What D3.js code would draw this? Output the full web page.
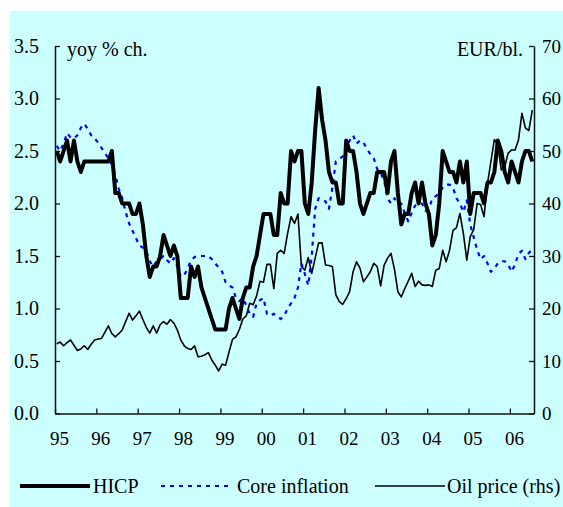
<!DOCTYPE html>
<html>
<head>
<meta charset="utf-8">
<script src="https://cdn.jsdelivr.net/npm/d3@7"></script>
<style>
  body { margin: 0; background: #fff; }
  svg { display: block; }
  text { font-family: "Liberation Serif", "Times New Roman", serif; fill: #000; }
</style>
</head>
<body>
<svg id="chart" width="563" height="507"></svg>
<script>
// monthly, Jan 1995 - Jul 2006
const yearLabels = ['95', '96', '97', '98', '99', '00', '01', '02', '03', '04', '05', '06'];
const leftTicks = [0, 0.5, 1, 1.5, 2, 2.5, 3, 3.5];
const rightTicks = [0, 10, 20, 30, 40, 50, 60, 70];

const hicp = [
  2.5, 2.4, 2.5, 2.6, 2.4, 2.6, 2.4, 2.3, 2.4, 2.4, 2.4, 2.4,
  2.4, 2.4, 2.4, 2.4, 2.5, 2.1, 2.1, 2.0, 2.0, 2.0, 1.9, 1.9,
  2.0, 1.8, 1.5, 1.3, 1.4, 1.4, 1.5, 1.7, 1.6, 1.5, 1.6, 1.5,
  1.1, 1.1, 1.1, 1.4, 1.3, 1.4, 1.2, 1.1, 1.0, 0.9, 0.8, 0.8,
  0.8, 0.8, 1.0, 1.1, 1.0, 0.9, 1.1, 1.2, 1.2, 1.4, 1.5, 1.7,
  1.9, 1.9, 1.9, 1.7, 1.7, 2.1, 2.0, 2.0, 2.5, 2.4, 2.5, 2.5,
  2.0, 1.9, 2.2, 2.7, 3.1, 2.8, 2.6, 2.3, 2.2, 2.2, 2.0, 2.0,
  2.6, 2.5, 2.5, 2.3, 2.0, 1.9, 2.0, 2.1, 2.1, 2.3, 2.3, 2.3,
  2.1, 2.4, 2.5, 2.1, 1.8, 1.9, 1.9, 2.1, 2.2, 2.0, 2.2, 2.0,
  1.9, 1.6, 1.7, 2.0, 2.5, 2.4, 2.3, 2.3, 2.2, 2.4, 2.2, 2.4,
  1.9, 2.1, 2.1, 2.1, 2.0, 2.2, 2.2, 2.3, 2.6, 2.5, 2.3, 2.2,
  2.4, 2.3, 2.2, 2.4, 2.5, 2.5, 2.4
];

const core = [
  2.55, 2.5, 2.57, 2.67, 2.63, 2.62, 2.65, 2.72, 2.76, 2.71, 2.65, 2.62,
  2.58, 2.53, 2.48, 2.43, 2.37, 2.27, 2.14, 2.05, 1.92, 1.81, 1.74, 1.67,
  1.6, 1.58, 1.55, 1.45, 1.4, 1.45, 1.47, 1.5, 1.46, 1.43, 1.48, 1.4,
  1.3, 1.32, 1.38, 1.46, 1.49, 1.5, 1.5, 1.5, 1.5, 1.47, 1.43, 1.39,
  1.35, 1.25, 1.22, 1.2, 1.1, 1.07, 1.1, 1.03, 0.95, 0.92, 1.05, 1.08,
  1.1, 0.95, 0.93, 0.95, 0.92, 0.9, 0.93, 1.0, 1.05, 1.1, 1.2, 1.43,
  1.33, 1.22, 1.5, 1.95, 2.05, 2.03, 2.02, 1.95, 2.15, 2.4, 2.42, 2.45,
  2.52, 2.6, 2.65, 2.57, 2.6, 2.58, 2.52, 2.47, 2.43, 2.33, 2.29, 2.22,
  2.05, 2.0, 2.05, 2.0, 2.0, 1.91, 1.83, 1.91, 1.98, 2.0, 2.0, 1.93,
  1.95, 2.05, 2.07, 2.1, 2.15, 2.18, 2.18, 2.15, 2.05, 2.0, 1.92, 2.03,
  1.8, 1.68, 1.56, 1.47, 1.5, 1.43, 1.35, 1.38, 1.43, 1.45, 1.45, 1.42,
  1.35, 1.42, 1.52, 1.55, 1.47, 1.53, 1.56
];

const oil = [
  13.3, 13.6, 12.9, 13.5, 14.0, 13.0, 12.0, 12.3, 12.9, 12.2, 13.2, 14.0,
  14.2, 14.3, 15.5, 16.7, 15.2, 14.6, 15.2, 15.9, 17.5, 19.1, 17.8, 18.6,
  19.5, 17.9, 16.4, 15.3, 16.7, 15.3, 16.9, 17.5, 17.0, 17.9, 17.2, 15.9,
  14.0, 12.9, 12.4, 12.2, 12.9, 10.8, 10.9, 11.2, 11.6, 10.2, 9.2, 8.1,
  9.4, 9.2, 11.7, 14.1, 14.6, 16.0, 18.0, 18.6, 21.0, 20.7, 22.4, 25.2,
  25.0, 28.4, 28.4, 23.8, 30.5, 31.1, 30.5, 34.3, 37.5, 36.2, 38.0, 28.0,
  27.3, 29.7, 26.7, 29.6, 32.5, 32.5, 28.3, 28.2, 28.0, 22.6, 21.3, 20.8,
  21.9, 23.2, 27.0, 28.9, 27.7, 25.1, 26.0, 27.0, 28.6, 28.0, 24.3, 28.2,
  29.6, 30.5, 27.5, 23.2, 22.2, 23.8, 25.2, 26.7, 24.2, 25.2, 24.5, 24.4,
  24.5, 24.2, 27.3, 27.6, 31.1, 28.9, 31.1, 34.9, 35.4, 38.1, 34.3, 29.2,
  33.7, 35.0, 40.0, 39.8, 37.5, 43.8, 48.0, 52.2, 51.2, 46.4, 47.0, 49.6,
  50.2, 50.2, 52.1, 57.2, 54.4, 53.9, 57.8
];

const legendItems = [
  { name: 'HICP', key: 'hicp' },
  { name: 'Core inflation', key: 'core' },
  { name: 'Oil price (rhs)', key: 'oil' }
];

const plot = { left: 55, right: 534, top: 46, bottom: 413.5 };
const styles = {
  hicp: { stroke: '#000', width: 4, dash: null },
  core: { stroke: '#0000ff', width: 2.2, dash: '4,5' },
  oil:  { stroke: '#000', width: 1.6, dash: null }
};

const svg = d3.select('#chart');

svg.append('rect')
  .attr('x', 10).attr('y', 11)
  .attr('width', 553).attr('height', 496)
  .attr('fill', '#ccffff');

const nMonths = hicp.length;

const xScale = d3.scaleLinear()
  .domain([0, nMonths])
  .range([plot.left, plot.right]);

const yLeft = d3.scaleLinear()
  .domain([0, 3.5])
  .range([plot.bottom, plot.top]);

const yRight = d3.scaleLinear()
  .domain([0, 70])
  .range([plot.bottom, plot.top]);

const xPos = (d, i) => xScale(i + 0.5);

// axes
const yAxisLeft = d3.axisLeft(yLeft)
  .tickValues(leftTicks)
  .tickFormat(d3.format('.1f'))
  .tickSize(-5)
  .tickSizeOuter(0)
  .tickPadding(16);

const yAxisRight = d3.axisRight(yRight)
  .tickValues(rightTicks)
  .tickFormat(d3.format('d'))
  .tickSize(-5)
  .tickSizeOuter(0)
  .tickPadding(8);

const xAxis = d3.axisBottom(xScale)
  .tickValues(yearLabels.map((d, i) => i * 12))
  .tickFormat((d, i) => yearLabels[i])
  .tickSize(-5)
  .tickSizeOuter(0)
  .tickPadding(18);

const styleAxis = g => {
  g.select('.domain').attr('stroke', '#111').attr('stroke-width', 1.5);
  g.selectAll('.tick line').attr('stroke', '#111').attr('stroke-width', 1.3);
  g.selectAll('text')
    .attr('font-family', '"Liberation Serif", "Times New Roman", serif')
    .attr('fill', '#000');
};

svg.append('g')
  .attr('transform', 'translate(' + plot.left + ',0)')
  .call(yAxisLeft)
  .call(styleAxis)
  .selectAll('text').attr('font-size', 20);

svg.append('g')
  .attr('transform', 'translate(' + plot.right + ',0)')
  .call(yAxisRight)
  .call(styleAxis)
  .selectAll('text').attr('font-size', 19);

svg.append('g')
  .attr('transform', 'translate(0,' + plot.bottom + ')')
  .call(xAxis)
  .call(styleAxis)
  .selectAll('text')
  .attr('font-size', 19)
  .attr('dx', 4);

// axis titles
svg.append('text')
  .attr('x', 67).attr('y', 56)
  .attr('font-size', 20)
  .text('yoy % ch.');

svg.append('text')
  .attr('x', 523).attr('y', 56)
  .attr('text-anchor', 'end')
  .attr('font-size', 20)
  .text('EUR/bl.');

// lines
const lineLeft = d3.line()
  .x(xPos)
  .y(d => yLeft(d));

const lineRight = d3.line()
  .x(xPos)
  .y(d => yRight(d));

const drawLine = (data, gen, st) => {
  svg.append('path')
    .datum(data)
    .attr('fill', 'none')
    .attr('stroke', st.stroke)
    .attr('stroke-width', st.width)
    .attr('stroke-linejoin', 'round')
    .attr('stroke-dasharray', st.dash)
    .attr('d', gen);
};

drawLine(oil, lineRight, styles.oil);
drawLine(core, lineLeft, styles.core);
drawLine(hicp, lineLeft, styles.hicp);

// legend
const legendY = 486;
const legendPos = [
  { x1: 20, x2: 90, tx: 93 },
  { x1: 161, x2: 231, tx: 237 },
  { x1: 375, x2: 445, tx: 447 }
];

const legend = svg.append('g');
legendItems.forEach((item, i) => {
  const st = styles[item.key];
  const p = legendPos[i];
  legend.append('line')
    .attr('x1', p.x1).attr('x2', p.x2)
    .attr('y1', legendY).attr('y2', legendY)
    .attr('stroke', st.stroke)
    .attr('stroke-width', st.width)
    .attr('stroke-dasharray', st.dash);
  legend.append('text')
    .attr('x', p.tx).attr('y', legendY + 7)
    .attr('font-size', 20)
    .text(item.name);
});
</script>
</body>
</html>
